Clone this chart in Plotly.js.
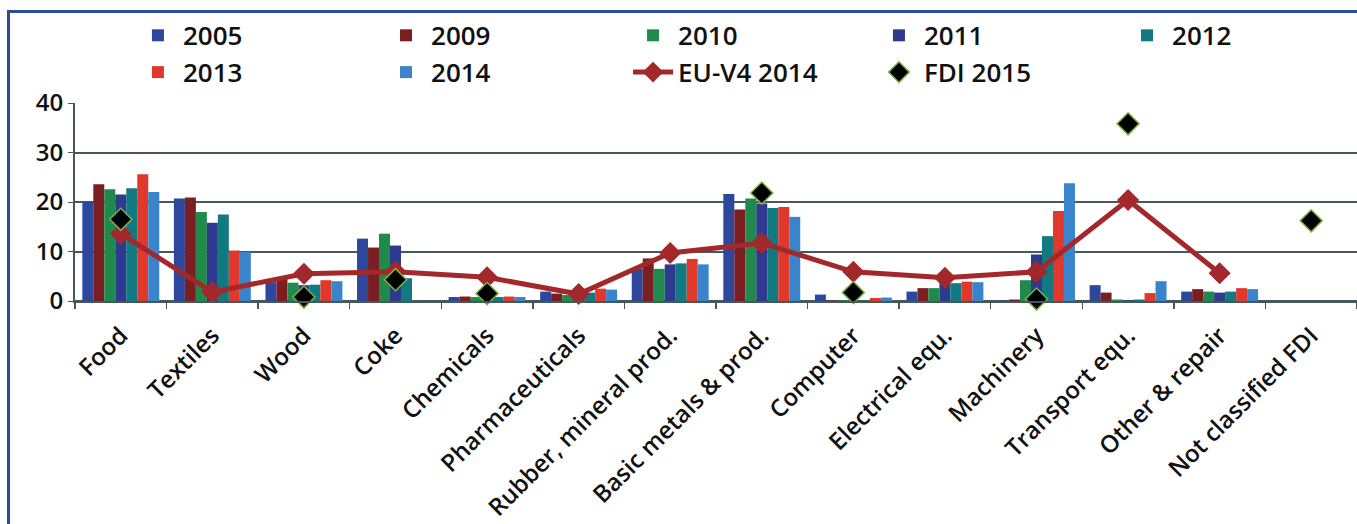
<!DOCTYPE html>
<html>
<head>
<meta charset="utf-8">
<script src="https://cdn.plot.ly/plotly-3.0.1.min.js"></script>
<style>
  html, body { margin: 0; padding: 0; background: #ffffff; }
  #wrap { position: relative; width: 1357px; height: 524px; overflow: hidden; }
  #chart { width: 1357px; height: 524px; }
  #frame { position: absolute; left: 7px; top: 10px; width: 1360px; height: 530px;
           border-left: 3px solid #2E4C9E; border-top: 3px solid #2E4C9E; pointer-events: none; }
</style>
</head>
<body>
<div id="wrap">
  <div id="chart"></div>
  <div id="frame"></div>
</div>
<script>
const categories = ["Food", "Textiles", "Wood", "Coke", "Chemicals", "Pharmaceuticals",
  "Rubber, mineral prod.", "Basic metals & prod.", "Computer", "Electrical equ.",
  "Machinery", "Transport equ.", "Other & repair", "Not classified FDI"];

const y2005 = [20.0, 20.7, 3.8, 12.6, 0.8, 1.9, 6.5, 21.6, 1.3, 1.9, 0.1, 3.2, 1.9, null];
const y2009 = [23.6, 20.9, 4.5, 10.8, 0.9, 1.5, 8.6, 18.5, 0.1, 2.6, 0.3, 1.7, 2.4, null];
const y2010 = [22.6, 18.0, 3.7, 13.6, 0.8, 1.2, 6.5, 20.7, 0.1, 2.6, 4.2, 0.3, 1.9, null];
const y2011 = [21.5, 15.8, 3.2, 11.2, 0.9, 1.4, 7.4, 19.7, 0.1, 3.6, 9.4, 0.1, 1.7, null];
const y2012 = [22.8, 17.5, 3.3, 4.6, 0.8, 1.7, 7.6, 18.8, 0.1, 3.6, 13.1, 0.3, 1.9, null];
const y2013 = [25.6, 10.2, 4.2, 0, 0.9, 2.5, 8.5, 19.0, 0.6, 3.9, 18.2, 1.6, 2.6, null];
const y2014 = [22.0, 9.9, 4.0, 0, 0.8, 2.3, 7.4, 17.0, 0.7, 3.8, 23.8, 4.0, 2.4, null];
const euV4_2014 = [13.6, 1.8, 5.5, 5.9, 4.8, 1.4, 9.7, 11.7, 5.9, 4.7, 5.9, 20.4, 5.6, null];
const fdi2015 = [16.5, null, 0.8, 4.3, 1.5, null, null, 21.8, 1.7, null, 0.4, 35.8, null, 16.2];

const barSeries = [
  {name: "2005", y: y2005, color: "#2C479C", legend: "legend"},
  {name: "2009", y: y2009, color: "#7A1E22", legend: "legend2"},
  {name: "2010", y: y2010, color: "#1F8A4C", legend: "legend3"},
  {name: "2011", y: y2011, color: "#2D3A8E", legend: "legend4"},
  {name: "2012", y: y2012, color: "#117A80", legend: "legend5"},
  {name: "2013", y: y2013, color: "#E0392C", legend: "legend"},
  {name: "2014", y: y2014, color: "#3A84CC", legend: "legend2"}
];

const traces = barSeries.map(s => ({
  type: "bar", name: s.name, x: categories, y: s.y, legend: s.legend,
  marker: {color: s.color, line: {width: 0}}
}));

traces.push({
  type: "scatter", mode: "lines+markers", name: "EU-V4 2014", legend: "legend3",
  x: categories, y: euV4_2014,
  line: {color: "#A3282C", width: 5},
  marker: {symbol: "diamond", size: 17, color: "#A3282C"},
  cliponaxis: false
});
traces.push({
  type: "scatter", mode: "markers", name: "FDI 2015", legend: "legend4",
  x: categories, y: fdi2015,
  marker: {symbol: "diamond", size: 17, color: "#000000", line: {color: "#7DB343", width: 1.5}},
  cliponaxis: false
});

const fontFam = "'Open Sans', 'Noto Sans', sans-serif";

function legendAt(xp) {
  return {
    orientation: "v", x: xp, y: 1.46, xanchor: "left", yanchor: "top",
    font: {family: fontFam, size: 26, color: "#111111", weight: 600},
    itemwidth: 40, tracegroupgap: 0, traceorder: "normal",
    bgcolor: "rgba(0,0,0,0)", borderwidth: 0
  };
}

const layout = {
  width: 1357, height: 524,
  margin: {l: 75, r: 0, t: 103, b: 223, pad: 0},
  paper_bgcolor: "#ffffff", plot_bgcolor: "#ffffff",
  barmode: "group", bargap: 0.16, bargroupgap: 0,
  showlegend: true,
  legend: legendAt(0.0452),
  legend2: legendAt(0.2387),
  legend3: legendAt(0.4314),
  legend4: legendAt(0.6232),
  legend5: legendAt(0.8167),
  xaxis: {
    type: "category",
    range: [-0.5, 13.5],
    tickangle: -45,
    ticks: "outside", ticklen: 6, tickwidth: 1.5, tickcolor: "#46585A",
    tickson: "boundaries",
    ticklabelstandoff: 9,
    showline: true, linecolor: "#46585A", linewidth: 2,
    showgrid: false,
    tickfont: {family: fontFam, size: 24, color: "#111111", weight: 600},
    automargin: false
  },
  yaxis: {
    range: [0, 40], dtick: 10, tick0: 0,
    showgrid: true, gridcolor: "#46585A", gridwidth: 2,
    showline: true, linecolor: "#46585A", linewidth: 2,
    ticks: "outside", ticklen: 5, tickcolor: "#46585A",
    zeroline: true, zerolinecolor: "#46585A", zerolinewidth: 2,
    tickfont: {family: fontFam, size: 24, color: "#111111", weight: 600},
    automargin: false
  }
};

Plotly.newPlot("chart", traces, layout, {displayModeBar: false, staticPlot: true});
</script>
</body>
</html>
